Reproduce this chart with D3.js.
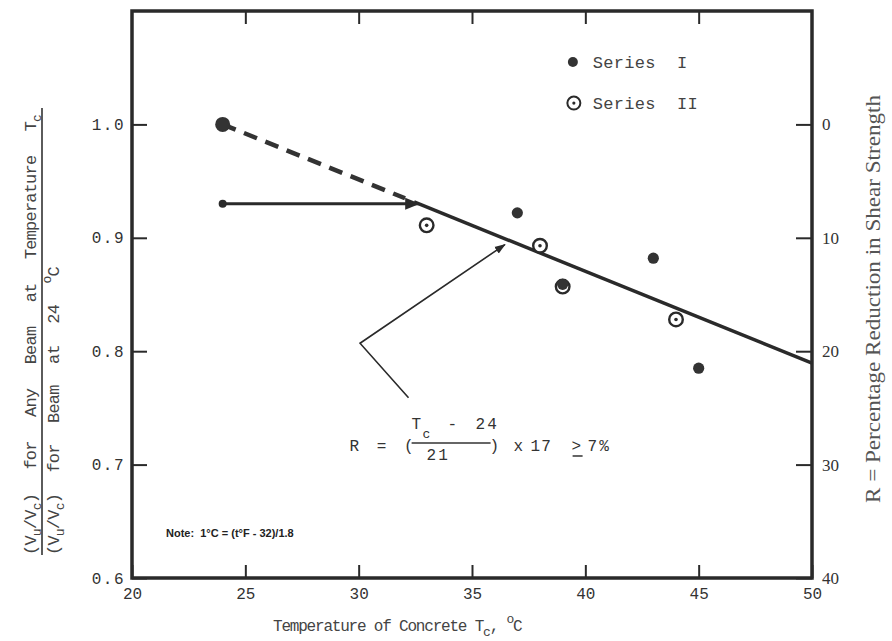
<!DOCTYPE html>
<html>
<head>
<meta charset="utf-8">
<script src="https://cdn.jsdelivr.net/npm/d3@7"></script>
<style>
  html, body { margin: 0; padding: 0; background: #fff; }
  svg { display: block; }
  text { white-space: pre; }
</style>
</head>
<body>
<svg id="chart" width="892" height="641"></svg>
<script>
// ---------- data ----------
const xTicks = [20, 25, 30, 35, 40, 45, 50];
const yTicks = [0.6, 0.7, 0.8, 0.9, 1.0];
const rTicks = [0, 10, 20, 30, 40];

const refTemp = [24];
const refValue = [1.0];

const seriesITemp  = [37, 39, 43, 45];
const seriesIValue = [0.922, 0.859, 0.882, 0.785];

const seriesIITemp  = [33, 38, 39, 44];
const seriesIIValue = [0.911, 0.893, 0.857, 0.828];

// design line: R = (Tc - 24)/21 * 17 >= 7 %
const lineBaseTemp = 24;
const lineSpan = 21;
const lineSlope = 17;
const minReduction = 7;
const minLevel = 0.93;     // horizontal 7% arrow level
const lineEndTemp = 50;

// ---------- layout ----------
const svg = d3.select("#chart");
const x = d3.scaleLinear().domain([20, 50]).range([132, 812]);
const y = d3.scaleLinear().domain([0.6, 1.1]).range([578, 11]);
const yR = d3.scaleLinear().domain([40, -10]).range([578, 11]);

const mono = "'Liberation Mono', 'DejaVu Sans Mono', monospace";
const serif = "'Liberation Serif', 'DejaVu Serif', serif";
const ink = "#2a2a2a";

const ratio = t => 1 - (t - lineBaseTemp) / lineSpan * lineSlope / 100;
const tMin = lineBaseTemp + minReduction * lineSpan / lineSlope;

// arrow markers
const defs = svg.append("defs");
defs.append("marker").attr("id", "ah").attr("viewBox", "0 0 10 10")
  .attr("refX", 9).attr("refY", 5).attr("markerWidth", 5).attr("markerHeight", 5)
  .attr("orient", "auto").attr("markerUnits", "strokeWidth")
  .append("path").attr("d", "M0,1 L10,5 L0,9 z").attr("fill", ink);
defs.append("marker").attr("id", "ah2").attr("viewBox", "0 0 10 10")
  .attr("refX", 9).attr("refY", 5).attr("markerWidth", 7).attr("markerHeight", 7)
  .attr("orient", "auto").attr("markerUnits", "strokeWidth")
  .append("path").attr("d", "M0,1.5 L10,5 L0,8.5 z").attr("fill", ink);

// ---------- axes ----------
const styleAxis = (g, font, size, ls) => {
  g.select(".domain").remove();
  g.selectAll(".tick line").attr("stroke", ink).attr("stroke-width", 2);
  g.selectAll(".tick text").attr("fill", "#333").style("font-family", font)
    .style("font-size", size + "px").style("letter-spacing", (ls || 0) + "px");
};

svg.append("g").attr("transform", `translate(0,${y(0.6)})`)
  .call(d3.axisBottom(x).tickValues(xTicks).tickSize(-13).tickPadding(10).tickFormat(d3.format("d")))
  .call(g => styleAxis(g, mono, 16, 0));

svg.append("g").attr("transform", `translate(0,${y(1.1)})`)
  .call(d3.axisTop(x).tickValues(xTicks.slice(1, -1)).tickSize(-13).tickFormat(""))
  .call(g => styleAxis(g, mono, 16, 0));

svg.append("g").attr("transform", `translate(${x(20)},0)`)
  .call(d3.axisLeft(y).tickValues(yTicks).tickSize(-15).tickPadding(7).tickFormat(d3.format(".1f")))
  .call(g => styleAxis(g, mono, 16, 1.5));

svg.append("g").attr("transform", `translate(${x(50)},0)`)
  .call(d3.axisRight(yR).tickValues(rTicks).tickSize(-16).tickPadding(10).tickFormat(d3.format("d")))
  .call(g => styleAxis(g, serif, 17, 0));

// frame
svg.append("rect")
  .attr("x", x(20)).attr("y", y(1.1))
  .attr("width", x(50) - x(20)).attr("height", y(0.6) - y(1.1))
  .attr("fill", "none").attr("stroke", ink).attr("stroke-width", 3.5);

// ---------- lines ----------
const line = d3.line().x(d => x(d[0])).y(d => y(d[1]));

// dashed extrapolation
svg.append("path")
  .attr("d", line([[refTemp[0], ratio(refTemp[0])], [tMin - 0.6, ratio(tMin - 0.6)]]))
  .attr("fill", "none").attr("stroke", "#333").attr("stroke-width", 4.5)
  .attr("stroke-dasharray", "14,9");

// solid design line
svg.append("path")
  .attr("d", line([[tMin - 0.2, ratio(tMin - 0.2)], [lineEndTemp, ratio(lineEndTemp)]]))
  .attr("fill", "none").attr("stroke", ink).attr("stroke-width", 3.5);

// horizontal 7% arrow
svg.append("path")
  .attr("d", line([[refTemp[0], minLevel], [tMin, minLevel]]))
  .attr("fill", "none").attr("stroke", ink).attr("stroke-width", 3)
  .attr("marker-end", "url(#ah)");
svg.append("circle").attr("cx", x(refTemp[0])).attr("cy", y(minLevel)).attr("r", 4).attr("fill", ink);

// formula pointer
const pointer = [[32.2, 0.759], [30.06, 0.807], [36.45, 0.894]];
svg.append("path").attr("d", line(pointer))
  .attr("fill", "none").attr("stroke", ink).attr("stroke-width", 1.6)
  .attr("marker-end", "url(#ah2)");

// ---------- points ----------
svg.selectAll(".ref").data(refTemp).join("circle")
  .attr("cx", d => x(d)).attr("cy", (d, i) => y(refValue[i])).attr("r", 7.5).attr("fill", "#333");

const s2 = svg.selectAll(".s2").data(seriesIITemp).join("g")
  .attr("transform", (d, i) => `translate(${x(d)},${y(seriesIIValue[i])})`);
s2.append("circle").attr("r", 6.8).attr("fill", "#fff").attr("stroke", ink).attr("stroke-width", 2.4);
s2.append("circle").attr("r", 1.8).attr("fill", ink);

svg.selectAll(".s1").data(seriesITemp).join("circle")
  .attr("cx", d => x(d)).attr("cy", (d, i) => y(seriesIValue[i])).attr("r", 5.6).attr("fill", "#333");

// ---------- legend ----------
const lg = svg.append("g").attr("transform", `translate(${x(39.45)},${y(1.055)})`);
lg.append("circle").attr("cx", 0).attr("cy", 0).attr("r", 5).attr("fill", "#333");
lg.append("text").attr("x", 20).attr("y", 6).text("Series  I")
  .attr("fill", "#444").style("font-family", mono).style("font-size", "17px").style("letter-spacing", "0.3px");
lg.append("circle").attr("cx", 1).attr("cy", 41).attr("r", 6.5).attr("fill", "#fff").attr("stroke", ink).attr("stroke-width", 2);
lg.append("circle").attr("cx", 1).attr("cy", 41).attr("r", 1.6).attr("fill", ink);
lg.append("text").attr("x", 20).attr("y", 47).text("Series  II")
  .attr("fill", "#444").style("font-family", mono).style("font-size", "17px").style("letter-spacing", "0.3px");

// ---------- formula ----------
const fx = x(29.6), fy = y(0.712);
const fg = svg.append("g").attr("transform", `translate(${fx},${fy})`)
  .attr("fill", "#333").style("font-family", mono).style("font-size", "16px");
fg.append("text").attr("x", 0).attr("y", 0).style("letter-spacing", "4px").text("R = (");
fg.append("text").attr("x", 62).attr("y", -22).text("T");
fg.append("text").attr("x", 73).attr("y", -13).style("font-size", "13px").text("c");
fg.append("text").attr("x", 98).attr("y", -22).text("-");
fg.append("text").attr("x", 126).attr("y", -22).style("letter-spacing", "2px").text("24");
fg.append("line").attr("x1", 62).attr("x2", 141).attr("y1", -8).attr("y2", -8)
  .attr("stroke", "#333").attr("stroke-width", 1.5);
fg.append("text").attr("x", 77).attr("y", 9).style("letter-spacing", "2px").text("21");
fg.append("text").attr("x", 140).attr("y", 0).text(")");
fg.append("text").attr("x", 164).attr("y", 0).text("x");
fg.append("text").attr("x", 181).attr("y", 0).style("letter-spacing", "1px").text("17");
fg.append("text").attr("x", 222).attr("y", 0).text(">");
fg.append("line").attr("x1", 223).attr("x2", 233).attr("y1", 5).attr("y2", 5)
  .attr("stroke", "#333").attr("stroke-width", 1.5);
fg.append("text").attr("x", 238).attr("y", 0).style("letter-spacing", "2px").text("7%");

// ---------- note ----------
svg.append("text").attr("x", x(21.5)).attr("y", y(0.636))
  .attr("fill", "#222").style("font-family", "'Liberation Sans', Arial, sans-serif")
  .style("font-size", "11px").style("font-weight", "bold")
  .text("Note:  1°C = (t°F - 32)/1.8");

// ---------- axis titles ----------
const xt = svg.append("text").attr("x", 273).attr("y", 631)
  .attr("fill", "#444").style("font-family", mono).style("font-size", "16px")
  .style("letter-spacing", "-1.2px");
xt.append("tspan").text("Temperature of Concrete T");
xt.append("tspan").attr("dy", 5).style("font-size", "13px").text("c");
xt.append("tspan").attr("dy", -5).text(", ");
xt.append("tspan").attr("dy", -8).style("font-size", "13px").text("o");
xt.append("tspan").attr("dy", 8).text("C");

// left fraction label
const lt = svg.append("g").attr("fill", "#444").style("font-family", mono).style("font-size", "17px")
  .style("letter-spacing", "-0.8px").style("word-spacing", "15px");
lt.append("line").attr("x1", 42).attr("x2", 42).attr("y1", 108).attr("y2", 555)
  .attr("stroke", "#333").attr("stroke-width", 1.6);
const num = lt.append("text").attr("transform", "translate(36,555) rotate(-90)");
num.append("tspan").text("(V");
num.append("tspan").attr("dy", 5).style("font-size", "13px").text("u");
num.append("tspan").attr("dy", -5).text("/V");
num.append("tspan").attr("dy", 5).style("font-size", "13px").text("c");
num.append("tspan").attr("dy", -5).text(") for Any Beam at Temperature T");
num.append("tspan").attr("dy", 5).style("font-size", "13px").text("c");

const den = lt.append("text").attr("transform", "translate(59,555) rotate(-90)")
  .style("word-spacing", "12px");
den.append("tspan").text("(V");
den.append("tspan").attr("dy", 5).style("font-size", "13px").text("u");
den.append("tspan").attr("dy", -5).text("/V");
den.append("tspan").attr("dy", 5).style("font-size", "13px").text("c");
den.append("tspan").attr("dy", -5).text(") for Beam at 24 ");
den.append("tspan").attr("dy", -8).style("font-size", "13px").text("o");
den.append("tspan").attr("dy", 8).text("C");

// right title
svg.append("text").attr("transform", "translate(880,299) rotate(-90)")
  .attr("text-anchor", "middle").attr("fill", "#555")
  .style("font-family", serif).style("font-size", "21px")
  .attr("textLength", 408).attr("lengthAdjust", "spacingAndGlyphs")
  .text("R = Percentage Reduction in Shear Strength");
</script>
</body>
</html>
